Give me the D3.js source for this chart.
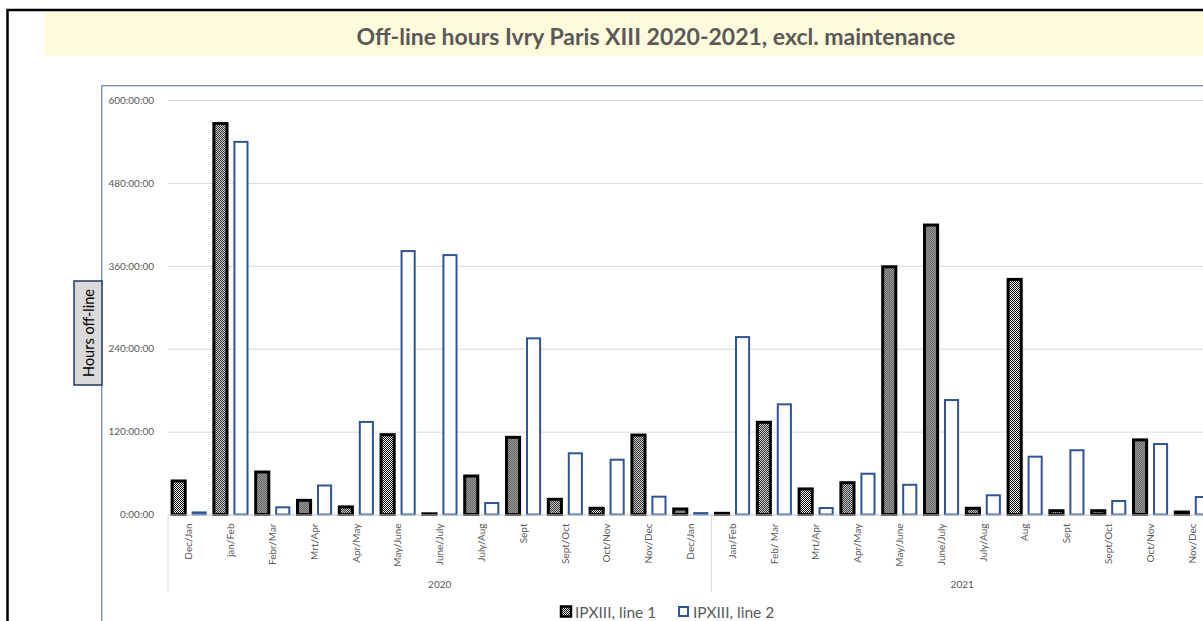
<!DOCTYPE html>
<html>
<head>
<meta charset="utf-8">
<script src="https://cdn.jsdelivr.net/npm/d3@7"></script>
<style>
  html, body { margin: 0; padding: 0; background: #ffffff; overflow: hidden; }
  svg { display: block; font-family: Lato, "Open Sans", sans-serif; }
</style>
</head>
<body>
<svg id="chart" width="1203" height="621"></svg>
<script>
// ---- data (hours off-line) ----
const title = "Off-line hours Ivry Paris XIII 2020-2021, excl. maintenance";
const yAxisTitle = "Hours off-line";
const groups = ["2020", "2021"];
const categories2020 = ["Dec/Jan","jan/Feb","Febr/Mar","Mrt/Apr","Apr/May","May/June","June/July","July/Aug","Sept","Sept/Oct","Oct/Nov","Nov/Dec","Dec/Jan"];
const categories2021 = ["Jan/Feb","Feb/ Mar","Mrt/Apr","Apr/May","May/June","June/July","July/Aug","Aug","Sept","Sept/Oct","Oct/Nov","Nov/Dec"];
const seriesNames = ["IPXIII, line 1", "IPXIII, line 2"];
const line1 = [48.5, 566, 61.5, 20.5, 11, 115.5, 1, 55.7, 111.7, 22, 9, 115, 8,
               1.7, 133.5, 37, 46, 358.6, 419, 9, 340.3, 5.5, 5.5, 108, 3.6];
const line2 = [3, 539.4, 10.4, 42, 134, 381.3, 375.5, 16.6, 255, 88.6, 79.3, 25.8, 2,
               256.8, 159.5, 9.4, 59, 43, 165.7, 27.8, 83.7, 93, 19.5, 102, 25.3];
const yTicks = [0, 120, 240, 360, 480, 600];

// ---- build ----
const cats = [];
categories2020.forEach((c, i) => cats.push({key: "2020-" + i, label: c, group: "2020"}));
categories2021.forEach((c, i) => cats.push({key: "2021-" + i, label: c, group: "2021"}));
const rows = cats.map((c, i) => ({...c, values: [line1[i], line2[i]]}));

const svg = d3.select("#chart");
const textColor = "#595959";
const ff = "Lato, 'Open Sans', sans-serif";

// pattern for line 1
const defs = svg.append("defs");
const pat = defs.append("pattern").attr("id", "chk").attr("patternUnits", "userSpaceOnUse")
  .attr("width", 2).attr("height", 2);
pat.append("rect").attr("width", 2).attr("height", 2).attr("fill", "#ffffff");
pat.append("rect").attr("x", 0).attr("y", 0).attr("width", 1).attr("height", 1).attr("fill", "#000");
pat.append("rect").attr("x", 1).attr("y", 1).attr("width", 1).attr("height", 1).attr("fill", "#000");

// outer chart border
svg.append("rect").attr("x", 7.5).attr("y", 10).attr("width", 1400).attr("height", 800)
  .attr("fill", "#fff").attr("stroke", "#000").attr("stroke-width", 2.5);

// title band
svg.append("rect").attr("x", 44).attr("y", 12).attr("width", 1300).attr("height", 44)
  .attr("fill", "#FFFADC");
svg.append("text").attr("x", 656).attr("y", 36).attr("text-anchor", "middle")
  .attr("dominant-baseline", "central").attr("font-weight", "bold").attr("font-size", 23)
  .attr("fill", textColor).text(title);

// plot area box
svg.append("rect").attr("x", 101.7).attr("y", 85.7).attr("width", 1300).attr("height", 700)
  .attr("fill", "none").attr("stroke", "#6F8BC2").attr("stroke-width", 1.3);

// scales
const x0 = d3.scaleBand().domain(cats.map(c => c.key)).range([168, 1213]).padding(0);
const x1 = d3.scaleBand().domain([0, 1]).range([0, x0.bandwidth()]).paddingInner(0.36).paddingOuter(0.2);
const y = d3.scaleLinear().domain([0, 600]).range([514.5, 100]);

// gridlines + y labels
const yAxis = d3.axisLeft(y).tickValues(yTicks).tickSize(0)
  .tickFormat(d => d + ":00:00");
const yg = svg.append("g").attr("transform", "translate(157,0)").call(yAxis);
yg.attr("font-family", ff);
yg.select(".domain").remove();
yg.selectAll("text").attr("fill", textColor).attr("font-size", 10).attr("dx", 0);

const grid = svg.append("g").attr("transform", "translate(168,0)")
  .call(d3.axisRight(y).tickValues(yTicks).tickSize(1100).tickFormat(""));
grid.select(".domain").remove();
grid.selectAll("line").attr("stroke", "#D9D9D9").attr("stroke-width", 1);

// bars
const barG = svg.append("g");
const catG = barG.selectAll("g.cat").data(rows).join("g").attr("class", "cat")
  .attr("transform", d => `translate(${x0(d.key)},0)`);
catG.selectAll("rect").data(d => d.values.map((v, i) => ({i, v}))).join("rect")
  .attr("x", d => x1(d.i))
  .attr("width", x1.bandwidth())
  .attr("y", d => y(d.v))
  .attr("height", d => y(0) - y(d.v))
  .attr("fill", d => d.i === 0 ? "url(#chk)" : "#ffffff")
  .attr("stroke", d => d.i === 0 ? "#000000" : "#2F5597")
  .attr("stroke-width", d => d.i === 0 ? 3 : 2);

// category axis
const xAxis = d3.axisBottom(x0).tickSize(0).tickFormat(k => cats.find(c => c.key === k).label);
const xg = svg.append("g").attr("transform", `translate(0,${y(0)})`).call(xAxis);
xg.attr("font-family", ff);
xg.select(".domain").attr("stroke", "#D9D9D9");
xg.selectAll("text").attr("fill", textColor).attr("font-size", 10)
  .attr("transform", "rotate(-90)")
  .attr("text-anchor", "end").attr("x", -9).attr("y", 0).attr("dy", "0.35em");

// group separators and labels
const groupBounds = groups.map(g => {
  const ks = cats.filter(c => c.group === g).map(c => c.key);
  return {g, x0: x0(ks[0]), x1: x0(ks[ks.length - 1]) + x0.bandwidth()};
});
const sepXs = [groupBounds[0].x0, ...groupBounds.map(b => b.x1)];
svg.selectAll("line.sep").data(sepXs).join("line").attr("class", "sep")
  .attr("x1", d => d).attr("x2", d => d).attr("y1", y(0)).attr("y2", 592)
  .attr("stroke", "#D9D9D9").attr("stroke-width", 1);
svg.selectAll("text.grp").data(groupBounds).join("text").attr("class", "grp")
  .attr("x", d => (d.x0 + d.x1) / 2).attr("y", 584).attr("text-anchor", "middle")
  .attr("dominant-baseline", "central").attr("font-size", 10).attr("fill", textColor)
  .text(d => d.g);

// y-axis title box
const tb = svg.append("g").attr("transform", "translate(88,333)");
tb.append("rect").attr("x", -14).attr("y", -52).attr("width", 28).attr("height", 104)
  .attr("fill", "#D9D9D9").attr("stroke", "#203864").attr("stroke-width", 1.5);
tb.append("text").attr("transform", "rotate(-90)").attr("text-anchor", "middle")
  .attr("dominant-baseline", "central").attr("font-size", 14.5).attr("fill", "#000")
  .text(yAxisTitle);

// legend
const lg = svg.append("g").attr("transform", "translate(0,612)");
const legItems = [{i: 0, x: 560}, {i: 1, x: 678}];
legItems.forEach(it => {
  if (it.i === 0) {
    lg.append("rect").attr("x", it.x + 1).attr("y", -5.5).attr("width", 10).attr("height", 10)
      .attr("fill", "url(#chk)").attr("stroke", "#000").attr("stroke-width", 2.5);
  } else {
    lg.append("rect").attr("x", it.x + 1).attr("y", -5).attr("width", 9).attr("height", 9)
      .attr("fill", "#fff").attr("stroke", "#2F5597").attr("stroke-width", 2);
  }
  lg.append("text").attr("x", it.x + 15).attr("y", 0).attr("dominant-baseline", "central")
    .attr("font-size", 15.5).attr("fill", textColor).text(seriesNames[it.i]);
});
</script>
</body>
</html>
